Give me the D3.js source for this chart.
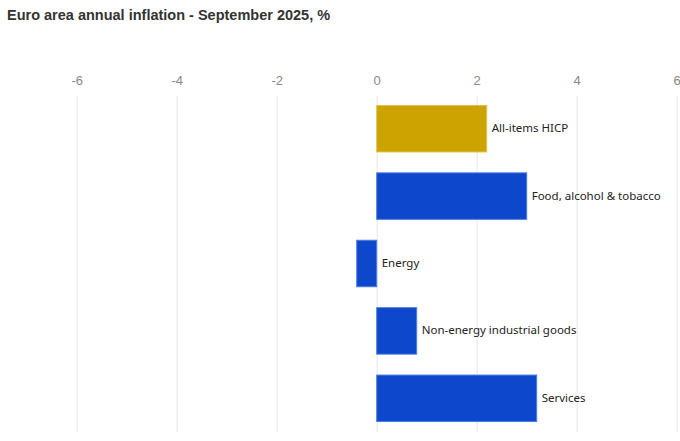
<!DOCTYPE html>
<html>
<head>
<meta charset="utf-8">
<script src="https://cdn.jsdelivr.net/npm/d3@7"></script>
<style>
  body { margin: 0; background: #fff; }
  svg { display: block; }
</style>
</head>
<body>
<svg id="chart" width="680" height="441"></svg>
<script>
// data
const categories = ["All-items HICP", "Food, alcohol & tobacco", "Energy", "Non-energy industrial goods", "Services"];
const values = [2.2, 3.0, -0.4, 0.8, 3.2];
const barColors = ["#CCA300", "#0D47CB", "#0D47CB", "#0D47CB", "#0D47CB"];
const tickValues = [-6, -4, -2, 0, 2, 4, 6];

const width = 680, height = 441;
const svg = d3.select("#chart");

const x = d3.scaleLinear().domain([-6, 6]).range([76.7, 676.7]);
const y = d3.scaleBand().domain(categories).range([95, 432]).paddingInner(0.31).paddingOuter(0.155);

svg.append("text")
  .attr("x", 7)
  .attr("y", 20)
  .attr("font-family", "Liberation Sans, Arial, sans-serif")
  .attr("font-size", 14.5)
  .attr("font-weight", "bold")
  .attr("fill", "#333")
  .text("Euro area annual inflation - September 2025, %");

// gridlines + tick labels (plain hyphen for minus, like the original)
const axis = d3.axisTop(x)
  .tickValues(tickValues)
  .tickFormat(d => String(d))
  .tickSize(-(432 - 96))
  .tickPadding(11);
const g = svg.append("g").attr("transform", "translate(0,96)").call(axis);
g.select(".domain").remove();
g.selectAll(".tick line").attr("stroke", "#e6e6e6").attr("stroke-width", 1);
g.selectAll(".tick text")
  .attr("fill", "#888")
  .attr("font-family", "Liberation Sans, Arial, sans-serif")
  .attr("font-size", 13);

const rows = categories.map((c, i) => ({ name: c, value: values[i], color: barColors[i] }));

svg.append("g").selectAll("rect")
  .data(rows)
  .enter()
  .append("rect")
  .attr("x", d => x(Math.min(0, d.value)))
  .attr("y", d => y(d.name))
  .attr("width", d => Math.abs(x(d.value) - x(0)))
  .attr("height", y.bandwidth())
  .attr("fill", d => d.color)
  .attr("stroke", d => d.value === values[0] ? "#e0c04d" : "#4f7de0")
  .attr("stroke-width", 1);

svg.append("g").selectAll("text")
  .data(rows)
  .enter()
  .append("text")
  .attr("x", d => x(Math.max(0, d.value)) + 5)
  .attr("y", d => y(d.name) + y.bandwidth() / 2 - 1)
  .attr("dominant-baseline", "central")
  .attr("font-family", "Noto Sans, sans-serif")
  .attr("font-size", 11.5)
  .attr("fill", "#222")
  .text(d => d.name);
</script>
</body>
</html>
